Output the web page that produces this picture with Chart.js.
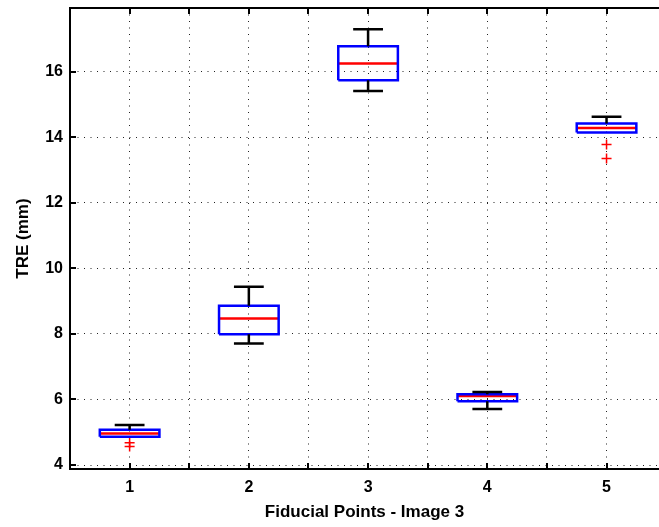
<!DOCTYPE html>
<html>
<head>
<meta charset="utf-8">
<script src="https://cdn.jsdelivr.net/npm/chart.js@4/dist/chart.umd.min.js"></script>
<style>
  body { margin: 0; background: #fff; }
  canvas { display: block; }
</style>
</head>
<body>
<canvas id="treChart" width="659" height="527"></canvas>
<script>
// Box plot values (TRE in mm)
const categories = [1, 2, 3, 4, 5];
const upperWhisker = [5.22, 9.44, 17.29, 6.23, 14.62];
const q3 = [5.08, 8.86, 16.77, 6.16, 14.42];
const medians = [4.96, 8.47, 16.25, 6.11, 14.28];
const q1 = [4.86, 7.99, 15.74, 5.95, 14.14];
const lowerWhisker = [4.86, 7.71, 15.41, 5.71, 14.14];
const outliers = [[4.68, 4.57], [], [], [], [13.78, 13.35]];

const BOX_HALF = 0.25;
const CAP_HALF = 0.125;
const GAP = x => ({ x: x, y: null });

// build point lists for the line datasets
function boxOutline() {
  const pts = [];
  categories.forEach((c, i) => {
    pts.push({ x: c - BOX_HALF, y: q1[i] }, { x: c + BOX_HALF, y: q1[i] },
             { x: c + BOX_HALF, y: q3[i] }, { x: c - BOX_HALF, y: q3[i] },
             { x: c - BOX_HALF, y: q1[i] }, GAP(c));
  });
  return pts;
}

function medianLines() {
  const pts = [];
  categories.forEach((c, i) => {
    pts.push({ x: c - BOX_HALF, y: medians[i] }, { x: c + BOX_HALF, y: medians[i] }, GAP(c));
  });
  return pts;
}

function whiskerLines() {
  const pts = [];
  categories.forEach((c, i) => {
    if (upperWhisker[i] > q3[i]) pts.push({ x: c, y: q3[i] }, { x: c, y: upperWhisker[i] }, GAP(c));
    pts.push({ x: c - CAP_HALF, y: upperWhisker[i] }, { x: c + CAP_HALF, y: upperWhisker[i] }, GAP(c));
    if (lowerWhisker[i] < q1[i]) {
      pts.push({ x: c, y: q1[i] }, { x: c, y: lowerWhisker[i] }, GAP(c));
      pts.push({ x: c - CAP_HALF, y: lowerWhisker[i] }, { x: c + CAP_HALF, y: lowerWhisker[i] }, GAP(c));
    }
  });
  return pts;
}

const outlierPoints = categories.flatMap((c, i) => outliers[i].map(v => ({ x: c, y: v })));

// MATLAB style frame on top plus inward tick marks
const frameTicks = {
  id: 'frameTicks',
  afterDatasetsDraw(chart) {
    const { ctx, chartArea: a, scales: { x, y } } = chart;
    ctx.save();
    ctx.strokeStyle = '#000';
    ctx.lineWidth = 2;
    ctx.beginPath();
    ctx.moveTo(a.left, a.top);
    ctx.lineTo(a.right, a.top);
    x.ticks.forEach(t => {
      const px = Math.round(x.getPixelForValue(t.value));
      ctx.moveTo(px, a.bottom);
      ctx.lineTo(px, a.bottom - 6);
      ctx.moveTo(px, a.top);
      ctx.lineTo(px, a.top + 6);
    });
    y.ticks.forEach(t => {
      const py = Math.round(y.getPixelForValue(t.value));
      ctx.moveTo(a.left, py);
      ctx.lineTo(a.left + 6, py);
    });
    ctx.stroke();
    ctx.restore();
  }
};

const labelFont = { family: "'Liberation Sans', Arial, sans-serif", size: 16, weight: 'bold' };

new Chart(document.getElementById('treChart'), {
  type: 'line',
  data: {
    datasets: [
      { type: 'line', data: whiskerLines(), borderColor: '#000', borderWidth: 2.5, pointRadius: 0, fill: false, spanGaps: false },
      { type: 'line', data: boxOutline(), borderColor: '#0000ff', borderWidth: 2.5, pointRadius: 0, fill: false, spanGaps: false },
      { type: 'line', data: medianLines(), borderColor: '#ff0000', borderWidth: 2.5, pointRadius: 0, fill: false, spanGaps: false },
      { type: 'scatter', data: outlierPoints, pointStyle: 'cross', pointRadius: 5, borderColor: '#ff0000', borderWidth: 1.5, backgroundColor: '#ff0000' }
    ]
  },
  options: {
    responsive: false,
    animation: false,
    layout: { autoPadding: false, padding: { top: 8, right: 0, left: 0, bottom: 0 } },
    plugins: { legend: { display: false }, tooltip: { enabled: false } },
    scales: {
      x: {
        type: 'linear',
        min: 0.5,
        max: 5.44,
        afterFit: s => { s.height = 58; s.paddingLeft = 0; s.paddingRight = 0; },
        grid: { color: '#222', lineWidth: 1, drawTicks: false },
        border: { color: '#000', width: 2, dash: [1, 5.5] },
        ticks: {
          stepSize: 0.5,
          includeBounds: false,
          autoSkip: false,
          maxRotation: 0,
          padding: 9,
          color: '#000',
          font: labelFont,
          callback: v => Math.abs(v - Math.round(v)) < 1e-6 ? Math.round(v) : ''
        },
        title: {
          display: true,
          text: 'Fiducial Points - Image 3',
          color: '#000',
          font: { family: "'Liberation Sans', Arial, sans-serif", size: 17, weight: 'bold' },
          padding: { top: 4, bottom: 4 }
        }
      },
      y: {
        min: 3.88,
        max: 17.94,
        afterFit: s => { s.width = 70; s.paddingTop = 0; s.paddingBottom = 0; },
        grid: { color: '#222', lineWidth: 1, drawTicks: false },
        border: { color: '#000', width: 2, dash: [1, 5.5] },
        ticks: {
          stepSize: 2,
          includeBounds: false,
          padding: 7,
          color: '#000',
          font: labelFont
        },
        title: {
          display: true,
          text: 'TRE (mm)',
          color: '#000',
          font: { family: "'Liberation Sans', Arial, sans-serif", size: 17, weight: 'bold' },
          padding: { top: 13, bottom: 0 }
        }
      }
    }
  },
  plugins: [frameTicks]
});
</script>
</body>
</html>
